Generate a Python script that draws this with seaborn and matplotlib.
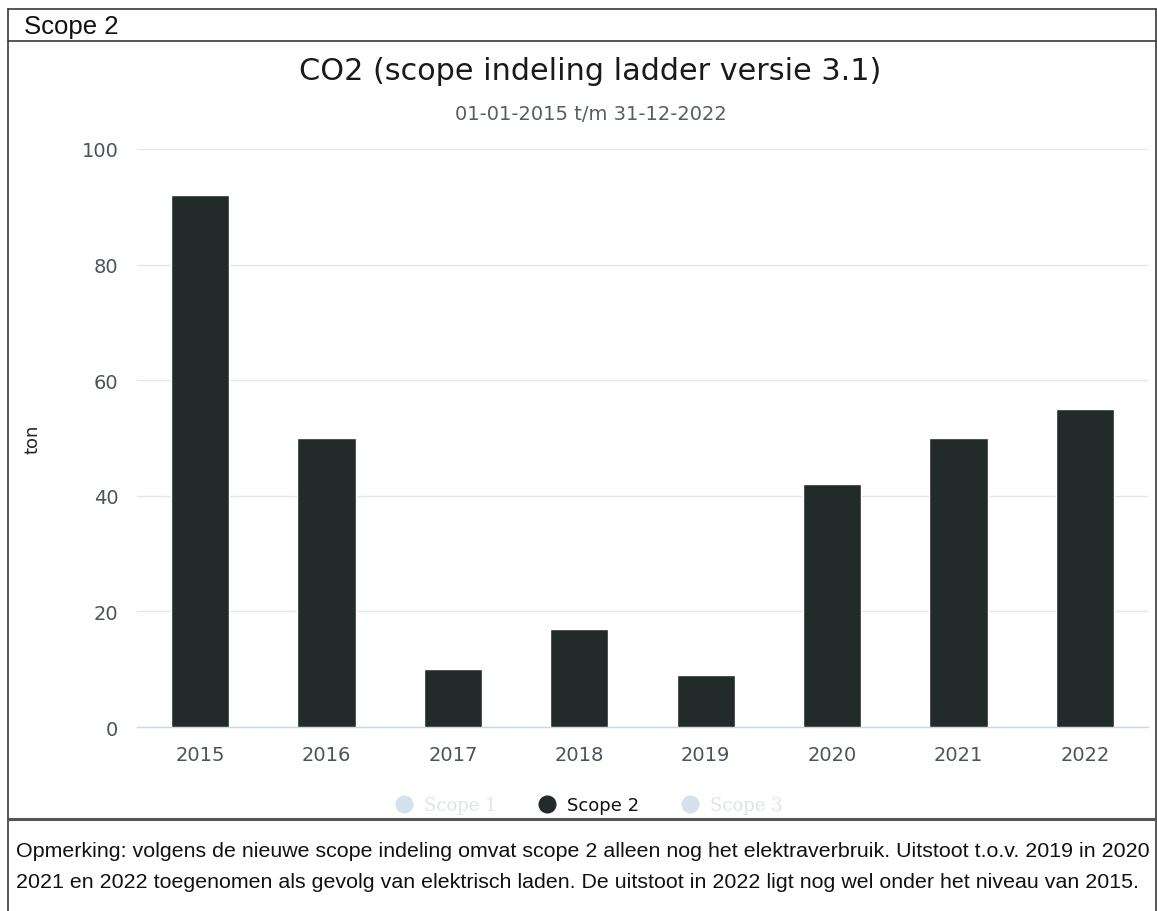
import matplotlib
matplotlib.use("Agg")
import matplotlib.pyplot as plt
from matplotlib.lines import Line2D
import seaborn as sns
import pandas as pd

# CO2 emissions, scope 2 (ton per year)
years = ["2015", "2016", "2017", "2018", "2019", "2020", "2021", "2022"]
scope2_ton = [92, 50, 10, 17, 9, 42, 50, 55]
y_ticks = [0, 20, 40, 60, 80, 100]
legend_labels = ["Scope 1", "Scope 2", "Scope 3"]

header = "Scope 2"
title = "CO2 (scope indeling ladder versie 3.1)"
subtitle = "01-01-2015 t/m 31-12-2022"
note = ("Opmerking: volgens de nieuwe scope indeling omvat scope 2 alleen nog het elektraverbruik. "
        "Uitstoot t.o.v. 2019 in 2020\n"
        "2021 en 2022 toegenomen als gevolg van elektrisch laden. "
        "De uitstoot in 2022 ligt nog wel onder het niveau van 2015.")

df = pd.DataFrame({"jaar": years, "ton": scope2_ton})

sns.set_theme(style="white")
plt.rcParams["font.family"] = ["DejaVu Sans"]

W, H = 1157, 912
fig = plt.figure(figsize=(W / 100, H / 100), dpi=100)
fig.patch.set_facecolor("white")


def fx(px):
    return px / W


def fy(py):
    return 1 - py / H


# Frame of the report cell
frame_kw = dict(transform=fig.transFigure, color="#3a3a3a", lw=1.2)
fig.add_artist(Line2D([fx(8), fx(1156)], [fy(10), fy(10)], **frame_kw))
fig.add_artist(Line2D([fx(8), fx(1156)], [fy(42), fy(42)], **frame_kw))
fig.add_artist(Line2D([fx(8), fx(8)], [fy(10), fy(912)], **frame_kw))
fig.add_artist(Line2D([fx(1156), fx(1156)], [fy(10), fy(912)], **frame_kw))
fig.add_artist(Line2D([fx(8), fx(1156)], [fy(820), fy(820)],
                      transform=fig.transFigure, color="#555555", lw=2.2))

fig.text(fx(24), fy(27), header, fontsize=18.5, family="Liberation Sans",
         va="center", ha="left", color="#111111")

# Chart area
ax = fig.add_axes([fx(137), fy(728), fx(1148 - 137), (728 - 150) / H])
bar_color = "#222a2a"
tick_color = "#4b545c"
sns.barplot(data=df, x="jaar", y="ton", color=bar_color, width=0.46,
            saturation=1, ax=ax, zorder=3)
ax.set_xlim(-0.5, len(years) - 0.5)
ax.set_ylim(0, 100)
ax.set_yticks(y_ticks)
ax.yaxis.grid(True, color="#e6e6e6", lw=1, zorder=0)
ax.xaxis.grid(False)
for s in ["top", "right", "left"]:
    ax.spines[s].set_visible(False)
ax.spines["bottom"].set_color("#ccd6eb")
ax.spines["bottom"].set_linewidth(1)
ax.tick_params(axis="y", length=0, pad=13.5, labelsize=14, labelcolor=tick_color)
ax.tick_params(axis="x", length=0, pad=13, labelsize=14, labelcolor=tick_color)
ax.set_xlabel("")
ax.set_ylabel("ton", fontsize=13, color="#222222", labelpad=0)
ax.yaxis.set_label_coords(fx(41 - 137) / fx(1148 - 137), 0.5)

fig.text(fx(590), fy(72), title, fontsize=21.8, ha="center", va="center", color="#1a1a1a")
fig.text(fx(591), fy(115), subtitle, fontsize=14, ha="center", va="center", color="#555e66")

# Legend: only scope 2 is active, the others are greyed out
handles = [
    Line2D([], [], marker="o", ls="", markersize=12, color="#d3e2ec"),
    Line2D([], [], marker="o", ls="", markersize=12, color=bar_color),
    Line2D([], [], marker="o", ls="", markersize=12, color="#d3e2ec"),
]
leg = fig.legend(handles, legend_labels, loc="center", bbox_to_anchor=(fx(588), fy(806)),
                 ncol=3, frameon=False, fontsize=13, handletextpad=0.5,
                 columnspacing=2.2, handlelength=1.2)
for i, t in enumerate(leg.get_texts()):
    if i == 1:
        t.set_color("#111111")
    else:
        t.set_color("#dfe4e8")
        t.set_family("DejaVu Serif")

fig.text(fx(16), fy(867), note, fontsize=15.4, family="Liberation Sans",
         ha="left", va="center", color="#111111", linespacing=1.75)

fig.savefig("out.png", dpi=100)
